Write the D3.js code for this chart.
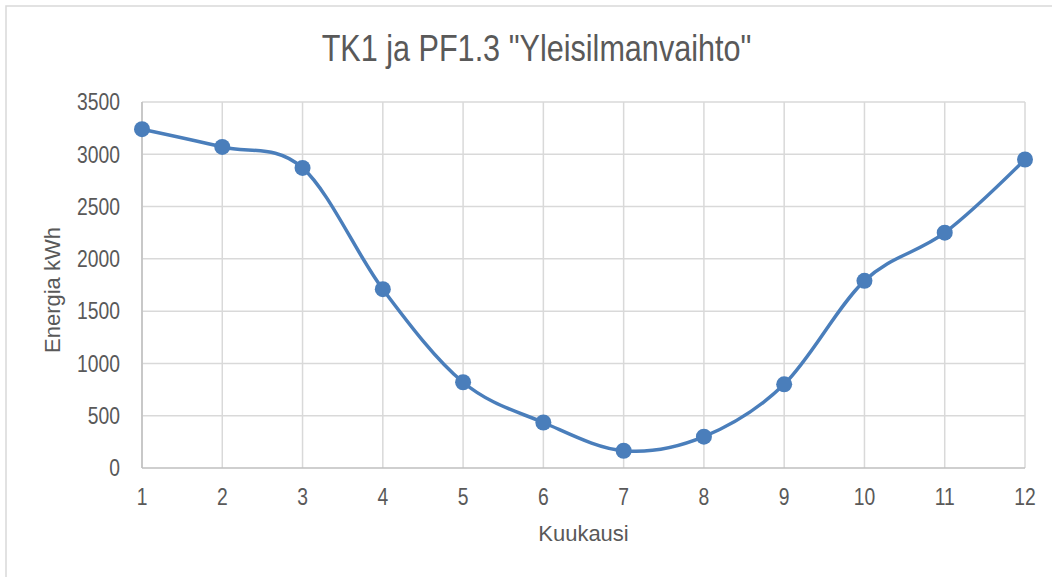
<!DOCTYPE html>
<html>
<head>
<meta charset="utf-8">
<script src="https://cdn.jsdelivr.net/npm/d3@7"></script>
<style>
  html, body { margin: 0; padding: 0; background: #fff; }
  svg { display: block; }
  text { font-family: "Liberation Sans", Arial, sans-serif; fill: #595959; }
</style>
</head>
<body>
<svg id="chart" width="1052" height="577"></svg>
<script>
const months = [1, 2, 3, 4, 5, 6, 7, 8, 9, 10, 11, 12];
const energy = [3240, 3070, 2870, 1710, 820, 435, 165, 300, 800, 1790, 2250, 2950];
const yTicks = [0, 500, 1000, 1500, 2000, 2500, 3000, 3500];
const xTicks = [1, 2, 3, 4, 5, 6, 7, 8, 9, 10, 11, 12];
const titleText = 'TK1 ja PF1.3 "Yleisilmanvaihto"';
const xTitle = "Kuukausi";
const yTitle = "Energia kWh";

const W = 1052, H = 577;
const m = { left: 142, right: 1025, top: 102, bottom: 468 };
const svg = d3.select("#chart");

// chart border
svg.append("rect")
  .attr("x", 6).attr("y", 6).attr("width", W + 10).attr("height", H + 10)
  .attr("fill", "#fff").attr("stroke", "#d9d9d9").attr("stroke-width", 1.5);

const x = d3.scaleLinear().domain([1, 12]).range([m.left, m.right]);
const y = d3.scaleLinear().domain([0, 3500]).range([m.bottom, m.top]);

// gridlines
svg.append("g").selectAll("line.h").data(yTicks.filter(d => d > 0)).join("line")
  .attr("x1", m.left).attr("x2", m.right)
  .attr("y1", d => y(d)).attr("y2", d => y(d))
  .attr("stroke", "#d9d9d9").attr("stroke-width", 1.5);
svg.append("g").selectAll("line.v").data(xTicks).join("line")
  .attr("x1", d => x(d)).attr("x2", d => x(d))
  .attr("y1", m.top).attr("y2", m.bottom)
  .attr("stroke", "#d9d9d9").attr("stroke-width", 1.5);

// axes lines
svg.append("line").attr("x1", m.left).attr("x2", m.right)
  .attr("y1", m.bottom).attr("y2", m.bottom)
  .attr("stroke", "#bfbfbf").attr("stroke-width", 1.5);
svg.append("line").attr("x1", m.left).attr("x2", m.left)
  .attr("y1", m.top).attr("y2", m.bottom)
  .attr("stroke", "#bfbfbf").attr("stroke-width", 1.5);

// y tick labels
const tickSX = 0.84;
svg.append("g").selectAll("text").data(yTicks).join("text")
  .attr("transform", d => `translate(120,${y(d)}) scale(${tickSX},1)`)
  .attr("text-anchor", "end").attr("dy", "0.36em")
  .style("font-size", "23px")
  .text(d => d);

// x tick labels
svg.append("g").selectAll("text").data(xTicks).join("text")
  .attr("transform", d => `translate(${x(d)},${m.bottom + 36.5}) scale(${tickSX},1)`)
  .attr("text-anchor", "middle")
  .style("font-size", "23px")
  .text(d => d);

// title
svg.append("text")
  .attr("transform", `translate(536.5,60.5) scale(0.827,1)`)
  .attr("text-anchor", "middle")
  .style("font-size", "37px")
  .text(titleText);

// axis titles
svg.append("text")
  .attr("x", (m.left + m.right) / 2).attr("y", 541)
  .attr("text-anchor", "middle")
  .style("font-size", "22px")
  .text(xTitle);
svg.append("text")
  .attr("transform", `translate(60,${(m.top + m.bottom) / 2 + 5}) rotate(-90)`)
  .attr("text-anchor", "middle")
  .style("font-size", "22px")
  .text(yTitle);

// series
const data = months.map((mm, i) => ({ m: mm, v: energy[i] }));
const line = d3.line().x(d => x(d.m)).y(d => y(d.v)).curve(d3.curveCardinal.tension(0));
svg.append("path").datum(data)
  .attr("d", line).attr("fill", "none")
  .attr("stroke", "#4a7ebb").attr("stroke-width", 3.5)
  .attr("stroke-linecap", "round");
svg.append("g").selectAll("circle").data(data).join("circle")
  .attr("cx", d => x(d.m)).attr("cy", d => y(d.v)).attr("r", 8)
  .attr("fill", "#4a7ebb");
</script>
</body>
</html>
